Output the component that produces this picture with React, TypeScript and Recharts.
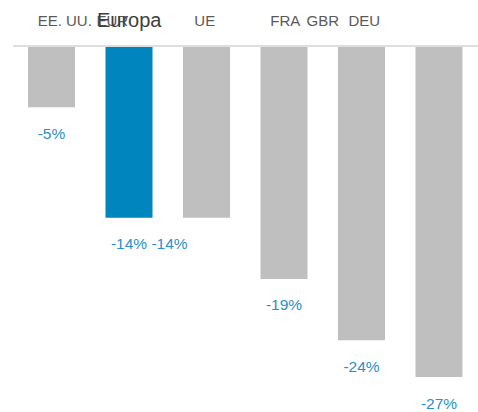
import React from 'react';
import { BarChart, Bar, XAxis, YAxis, Cell, LabelList } from 'recharts';

const regions = ['EE. UU.', 'EUR', 'UE', 'FRA', 'GBR', 'DEU'];
const change = [-5, -14, -14, -19, -24, -27];
const highlight = 'EUR';
const highlightName = 'Europa';

const data = regions.map((r, i) => ({ region: r, value: change[i] }));

const FONT = 'Arial, "Liberation Sans", sans-serif';
const GREY = '#bfbfbf';
const BLUE = '#0085bf';
const LABEL_BLUE = '#2a8fca';

// header labels sit in a flowing row rather than centred on each bar
const tickShift = [13, -17, -2, 1, -39, -75];
const labelShift = [0, 0, -37, 0, 0, 0];

const TopTick = (props: any) => {
  const { x, index, payload } = props;
  const dx = tickShift[index] || 0;
  return (
    <g>
      <text x={x + dx} y={26} textAnchor="middle" fontSize={15} fill="#595959" fontFamily={FONT}>
        {payload.value}
      </text>
      {payload.value === highlight && (
        <text x={x} y={27} textAnchor="middle" fontSize={20} fill="#404040" fontFamily={FONT}>
          {highlightName}
        </text>
      )}
    </g>
  );
};

const ValueLabel = (props: any) => {
  const { x, y, width, height, value, index } = props;
  const bottom = Math.max(y, y + height);
  return (
    <text
      x={x + width / 2 + (labelShift[index] || 0)}
      y={bottom + 26}
      textAnchor="middle"
      dominantBaseline="central"
      fontSize={15.5}
      fill={LABEL_BLUE}
      fontFamily={FONT}
    >
      {`${value}%`}
    </text>
  );
};

export default function App() {
  return (
    <div style={{ position: 'absolute', left: 0, top: 0, background: '#fff' }}>
      <BarChart width={478} height={412} data={data} margin={{ top: 45, right: 0, bottom: 35, left: 13 }}>
        <XAxis
          dataKey="region"
          orientation="top"
          height={1}
          axisLine={{ stroke: '#dedede', strokeWidth: 2 }}
          tickLine={false}
          tick={<TopTick />}
          interval={0}
        />
        <YAxis hide domain={[-27, 0]} />
        <Bar dataKey="value" barSize={47} isAnimationActive={false}>
          {data.map((d) => (
            <Cell key={d.region} fill={d.region === highlight ? BLUE : GREY} />
          ))}
          <LabelList dataKey="value" content={<ValueLabel />} />
        </Bar>
      </BarChart>
    </div>
  );
}
